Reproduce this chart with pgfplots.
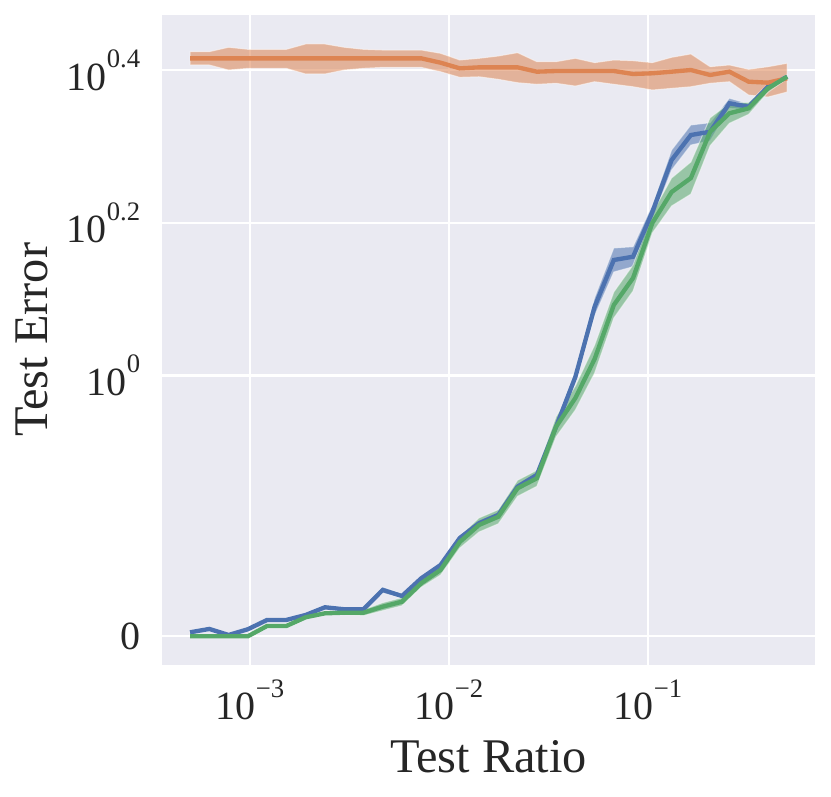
\documentclass[border=0pt]{standalone}
\usepackage{fontspec}
\setmainfont{Liberation Serif}
\usepackage{pgfplots}
\pgfplotsset{compat=1.18}
\usepgfplotslibrary{fillbetween}
\usepackage{pgfplotstable}
\definecolor{bg}{HTML}{EAEAF2}
\definecolor{cblue}{HTML}{4C72B0}
\definecolor{corange}{HTML}{DD8452}
\definecolor{cgreen}{HTML}{55A868}
\definecolor{txt}{HTML}{262626}
\newcommand\sus[1]{\raisebox{6.8pt}{\fontsize{8}{8}\selectfont #1}}

% y values are in the symlog display units of the chart:
% 0 -> 0, 10^0 -> 0.3418, 10^0.2 -> 0.5418, 10^0.4 -> 0.7418
\pgfplotstableread{
x m lo hi
5.0e-4 0.0052 0.0032 0.0072
6.249e-4 0.0096 0.0076 0.0116
7.810e-4 0.0017 0.0000 0.0037
9.757e-4 0.0092 0.0072 0.0112
1.2193e-3 0.0214 0.0194 0.0234
1.5237e-3 0.0214 0.0194 0.0234
1.9042e-3 0.0279 0.0259 0.0299
2.3796e-3 0.0380 0.0360 0.0400
2.9737e-3 0.0354 0.0334 0.0374
3.7162e-3 0.0354 0.0334 0.0374
4.6441e-3 0.0607 0.0568 0.0646
5.8036e-3 0.0528 0.0502 0.0554
7.2526e-3 0.0760 0.0734 0.0786
9.0634e-3 0.0934 0.0908 0.0960
1.13264e-2 0.1288 0.1249 0.1327
1.41543e-2 0.1481 0.1442 0.1520
1.76883e-2 0.1590 0.1551 0.1629
2.21046e-2 0.1961 0.1922 0.2000
2.76236e-2 0.2114 0.2075 0.2153
3.45206e-2 0.2747 0.2681 0.2813
4.31395e-2 0.3400 0.3321 0.3479
5.39104e-2 0.4320 0.4202 0.4438
6.72977e-2 0.4932 0.4775 0.5089
8.41e-2 0.4975 0.4844 0.5106
0.10509 0.5561 0.5469 0.5653
0.13133 0.6242 0.6111 0.6373
0.16412 0.6570 0.6439 0.6701
0.20509 0.6613 0.6495 0.6731
0.25630 0.6986 0.6920 0.7052
0.32029 0.6941 0.6902 0.6980
0.40026 0.7203 0.7164 0.7242
0.5 0.7334 0.7308 0.7360
}\tblue

\pgfplotstableread{
x m lo hi
5.0e-4 0.7575 0.7488 0.7662
6.249e-4 0.7575 0.7488 0.7662
7.810e-4 0.7575 0.7422 0.7720
9.757e-4 0.7575 0.7444 0.7693
1.2193e-3 0.7575 0.7444 0.7693
1.5237e-3 0.7575 0.7444 0.7693
1.9042e-3 0.7575 0.7370 0.7763
2.3796e-3 0.7575 0.7370 0.7763
2.9737e-3 0.7575 0.7422 0.7720
3.7162e-3 0.7575 0.7444 0.7693
4.6441e-3 0.7575 0.7457 0.7684
5.8036e-3 0.7575 0.7457 0.7684
7.2526e-3 0.7575 0.7457 0.7684
9.0634e-3 0.7518 0.7400 0.7641
1.13264e-2 0.7444 0.7326 0.7553
1.41543e-2 0.7457 0.7334 0.7575
1.76883e-2 0.7457 0.7300 0.7605
2.21046e-2 0.7457 0.7256 0.7649
2.76236e-2 0.7400 0.7235 0.7531
3.45206e-2 0.7409 0.7248 0.7531
4.31395e-2 0.7409 0.7212 0.7575
5.39104e-2 0.7409 0.7269 0.7518
6.72977e-2 0.7409 0.7235 0.7553
8.41e-2 0.7370 0.7203 0.7544
0.10509 0.7379 0.7160 0.7518
0.13133 0.7400 0.7182 0.7588
0.16412 0.7422 0.7203 0.7632
0.20509 0.7357 0.7248 0.7465
0.25630 0.7400 0.7269 0.7488
0.32029 0.7269 0.7094 0.7431
0.40026 0.7256 0.7068 0.7465
0.5 0.7313 0.7134 0.7510
}\torange

\pgfplotstableread{
x m lo hi
5.0e-4 0.0000 0.0000 0.0020
6.249e-4 0.0000 0.0000 0.0020
7.810e-4 0.0000 0.0000 0.0020
9.757e-4 0.0000 0.0000 0.0020
1.2193e-3 0.0135 0.0109 0.0161
1.5237e-3 0.0135 0.0109 0.0161
1.9042e-3 0.0249 0.0223 0.0275
2.3796e-3 0.0301 0.0275 0.0327
2.9737e-3 0.0309 0.0283 0.0335
3.7162e-3 0.0309 0.0270 0.0348
4.6441e-3 0.0388 0.0336 0.0440
5.8036e-3 0.0453 0.0401 0.0505
7.2526e-3 0.0695 0.0643 0.0747
9.0634e-3 0.0869 0.0803 0.0935
1.13264e-2 0.1236 0.1157 0.1315
1.41543e-2 0.1459 0.1367 0.1551
1.76883e-2 0.1567 0.1475 0.1659
2.21046e-2 0.1940 0.1835 0.2045
2.76236e-2 0.2071 0.1966 0.2176
3.45206e-2 0.2747 0.2616 0.2878
4.31395e-2 0.3123 0.2966 0.3280
5.39104e-2 0.3634 0.3451 0.3817
6.72977e-2 0.4342 0.4172 0.4512
8.41e-2 0.4696 0.4526 0.4866
0.10509 0.5417 0.5286 0.5548
0.13133 0.5823 0.5640 0.6006
0.16412 0.6006 0.5796 0.6216
0.20509 0.6613 0.6430 0.6796
0.25630 0.6855 0.6724 0.6986
0.32029 0.6920 0.6841 0.6999
0.40026 0.7182 0.7130 0.7234
0.5 0.7334 0.7308 0.7360
}\tgreen

\begin{document}
\begin{tikzpicture}
\begin{axis}[
  at={(0,0)}, anchor=south west,
  scale only axis, width=195.9pt, height=194.85pt,
  xmode=log, xmin=3.614e-4, xmax=0.690,
  ymin=-0.0370, ymax=0.8143,
  xtick={1e-3,1e-2,1e-1},
  xticklabels={10\sus{−3},10\sus{−2},10\sus{−1}},
  minor xtick={},
  ytick={0,0.3418,0.5418,0.7418},
  yticklabels={0,10\sus{0},10\sus{0.2},10\sus{0.4}},
  axis background/.style={fill=bg},
  axis line style={draw=none},
  major tick length=0pt, minor tick length=0pt, tick style={draw=none},
  xmajorgrids, ymajorgrids,
  major grid style={white, line width=0.65pt},
  tick label style={font=\fontsize{12}{12}\selectfont, text=txt},
  xticklabel style={anchor=north, yshift=-1pt},
  yticklabel style={anchor=east, xshift=-3pt},
  label style={font=\fontsize{14.5}{14.5}\selectfont, text=txt},
  xlabel={Test Ratio}, ylabel={Test Error},
  xlabel style={at={(axis description cs:0.5,-0.1658)}, anchor=base},
  ylabel style={at={(axis description cs:-0.1746,0.5)}, anchor=base},
]
% blue
\addplot[name path=bhi, draw=none, forget plot] table[x=x,y=hi]{\tblue};
\addplot[name path=blo, draw=none, forget plot] table[x=x,y=lo]{\tblue};
\addplot[fill=cblue, fill opacity=0.55, draw=white, draw opacity=0.5, line width=0.3pt] fill between[of=bhi and blo];
\addplot[cblue, line width=1.3pt] table[x=x,y=m]{\tblue};
% orange
\addplot[name path=ohi, draw=none, forget plot] table[x=x,y=hi]{\torange};
\addplot[name path=olo, draw=none, forget plot] table[x=x,y=lo]{\torange};
\addplot[fill=corange, fill opacity=0.55, draw=white, draw opacity=0.5, line width=0.3pt] fill between[of=ohi and olo];
\addplot[corange, line width=1.3pt] table[x=x,y=m]{\torange};
% green
\addplot[name path=ghi, draw=none, forget plot] table[x=x,y=hi]{\tgreen};
\addplot[name path=glo, draw=none, forget plot] table[x=x,y=lo]{\tgreen};
\addplot[fill=cgreen, fill opacity=0.55, draw=white, draw opacity=0.5, line width=0.3pt] fill between[of=ghi and glo];
\addplot[cgreen, line width=1.3pt] table[x=x,y=m]{\tgreen};
\end{axis}
\pgfresetboundingbox
\path[use as bounding box] (-48.6pt,-39.45pt) rectangle (200.7pt,199.35pt);
\end{tikzpicture}
\end{document}
